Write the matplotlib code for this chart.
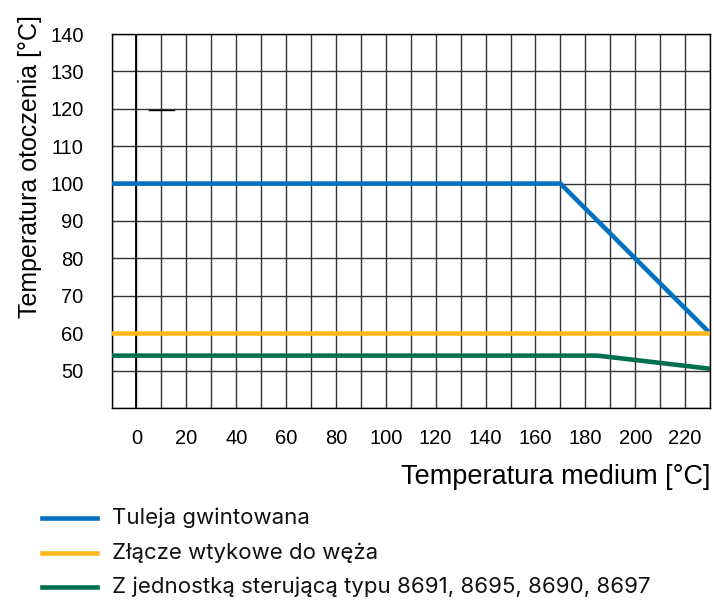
import matplotlib.pyplot as plt
from matplotlib.lines import Line2D

plt.rcParams['font.family'] = ['Liberation Sans', 'DejaVu Sans']

# series
labels = ["Tuleja gwintowana", "Złącze wtykowe do węża",
          "Z jednostką sterującą typu 8691, 8695, 8690, 8697"]
x_tuleja = [-10, 170, 230]
y_tuleja = [100, 100, 60]
x_zlacze = [-10, 230]
y_zlacze = [60, 60]
x_jedn = [-10, 185, 230]
y_jedn = [54, 54, 50.5]
colors = ["#0070C0", "#FFB81C", "#00704F"]

x_ticks = list(range(0, 221, 20))
y_ticks = list(range(50, 141, 10))

W, H = 714, 600
fig = plt.figure(figsize=(W / 100, H / 100), dpi=100)
ax = fig.add_axes([111.5 / W, 1 - 408 / H, (710 - 111.5) / W, (408 - 34) / H])

# grid
for gx in range(-10, 231, 10):
    ax.axvline(gx, color="#333333", lw=1.0, zorder=1)
for gy in range(40, 141, 10):
    ax.axhline(gy, color="#333333", lw=1.0, zorder=1)
ax.axvline(0, color="black", lw=1.3, zorder=1)
ax.plot([5, 15], [119.8, 119.8], color="black", lw=1.0, zorder=1)

ax.plot(x_tuleja, y_tuleja, color=colors[0], lw=3.3, zorder=3)
ax.plot(x_zlacze, y_zlacze, color=colors[1], lw=3.3, zorder=3)
ax.plot(x_jedn, y_jedn, color=colors[2], lw=3.3, zorder=3)

ax.set_xlim(-10, 230)
ax.set_ylim(40, 140)
ax.set_xticks(x_ticks)
ax.set_yticks(y_ticks)
ax.tick_params(length=0, labelsize=14.5)
ax.tick_params(axis='x', pad=15)
ax.tick_params(axis='y', pad=20)
for s in ax.spines.values():
    s.set_color("black")
    s.set_linewidth(1.0)

ax.set_xlabel("Temperatura medium [°C]", fontsize=19.5, loc="right", labelpad=12)
ax.set_ylabel("Temperatura otoczenia [°C]", fontsize=18, y=1.051,
              ha="right", labelpad=6)

# legend below the chart
legend_y = [518, 553, 587]
for lab, col, ly in zip(labels, colors, legend_y):
    fy = 1 - ly / H
    fig.add_artist(Line2D([42 / W, 97 / W], [fy, fy], color=col, lw=3.3))
    fig.text(112 / W, fy, lab, fontsize=16, va="center",
             family=["Inter", "DejaVu Sans"], color="#111111")

fig.savefig("out.png", dpi=100)
